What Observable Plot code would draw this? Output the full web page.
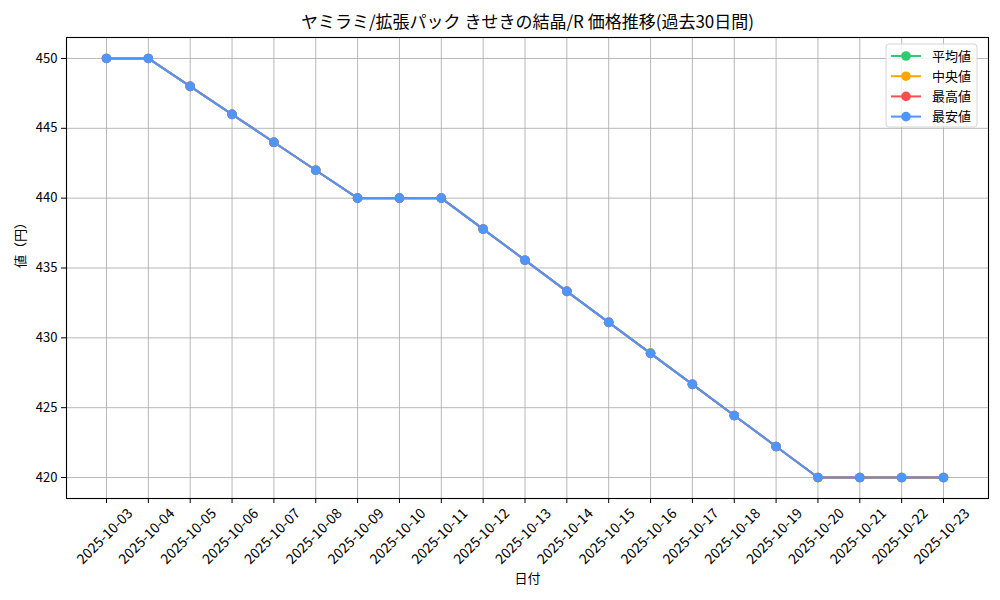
<!DOCTYPE html>
<html>
<head>
<meta charset="utf-8">
<script src="https://cdn.jsdelivr.net/npm/d3@7"></script>
<script src="https://cdn.jsdelivr.net/npm/@observablehq/plot@0.6"></script>
<style>
  html, body { margin: 0; padding: 0; background: white; }
  #chart { position: relative; width: 1000px; height: 600px; }
</style>
</head>
<body>
<div id="chart"></div>
<script>
const titleText = "ヤミラミ/拡張パック きせきの結晶/R 価格推移(過去30日間)";
const xLabel = "日付";
const yLabel = "値（円）";

const dates = ["2025-10-03","2025-10-04","2025-10-05","2025-10-06","2025-10-07","2025-10-08","2025-10-09",
  "2025-10-10","2025-10-11","2025-10-12","2025-10-13","2025-10-14","2025-10-15","2025-10-16",
  "2025-10-17","2025-10-18","2025-10-19","2025-10-20","2025-10-21","2025-10-22","2025-10-23"];

const avgValues    = [450, 450, 448, 446, 444, 442, 440, 440, 440, 437.78, 435.56, 433.33, 431.11, 428.89, 426.67, 424.44, 422.22, 420, 420, 420, 420];
const medianValues = [450, 450, 448, 446, 444, 442, 440, 440, 440, 437.78, 435.56, 433.33, 431.11, 428.89, 426.67, 424.44, 422.22, 420, 420, 420, 420];
const maxValues    = [450, 450, 448, 446, 444, 442, 440, 440, 440, 437.78, 435.56, 433.33, 431.11, 428.89, 426.67, 424.44, 422.22, 420, 420, 420, 420];
const minValues    = [450, 450, 448, 446, 444, 442, 440, 440, 440, 437.78, 435.56, 433.33, 431.11, 428.89, 426.67, 424.44, 422.22, 420, 420, 420, 420];

const seriesNames  = ["平均値", "中央値", "最高値", "最安値"];
const seriesColors = ["#2ecc71", "#ffa500", "#ff4d4d", "#4d96ff"];
const seriesValues = [avgValues, medianValues, maxValues, minValues];

const yTicks = [420, 425, 430, 435, 440, 445, 450];

const font = "'Noto Sans CJK JP', 'Noto Sans', sans-serif";

const seriesData = seriesNames.map((name, i) =>
  dates.map((d, j) => ({date: d, value: seriesValues[i][j], series: name}))
);

const marks = [
  Plot.gridX(dates, {stroke: "#b0b0b0", strokeOpacity: 1, strokeWidth: 0.9}),
  Plot.gridY(yTicks, {stroke: "#b0b0b0", strokeOpacity: 1, strokeWidth: 0.9}),
];
seriesData.forEach((rows, i) => {
  marks.push(Plot.line(rows, {x: "date", y: "value", stroke: seriesColors[i], strokeWidth: 2}));
  marks.push(Plot.dot(rows, {x: "date", y: "value", fill: seriesColors[i], r: 4.8}));
});
marks.push(
  Plot.frame({stroke: "black", strokeWidth: 1.1}),
  Plot.axisY(yTicks, {tickSize: 5, tickPadding: 4, label: null, fontSize: 13}),
  Plot.axisX(dates, {tickSize: 5, tickFormat: () => "", label: null}),
  Plot.text(dates, {x: d => d, frameAnchor: "bottom", lineAnchor: "middle", dy: 38, dx: -1.5, rotate: -45, textAnchor: "middle", fontSize: 14}),
  Plot.text([titleText], {frameAnchor: "top", lineAnchor: "middle", dy: -15, fontSize: 17}),
  Plot.text([xLabel], {frameAnchor: "bottom", lineAnchor: "middle", dy: 80, fontSize: 13}),
  Plot.text([yLabel], {frameAnchor: "left", lineAnchor: "middle", dx: -46, rotate: -90, fontSize: 13})
);

const chart = Plot.plot({
  width: 1000,
  height: 600,
  marginLeft: 66,
  marginRight: 12,
  marginTop: 37,
  marginBottom: 102,
  style: {fontFamily: font, fontSize: "13px", background: "white", color: "black", overflow: "visible"},
  x: {type: "point", domain: dates, range: [106, 943], padding: 0, round: false},
  y: {domain: [418.5, 451.5]},
  marks
});

// legend
const svg = d3.select(chart);
const lg = svg.append("g").attr("font-family", font).attr("font-size", 13).attr("text-anchor", "start");
lg.append("rect").attr("x", 886).attr("y", 44).attr("width", 91).attr("height", 83)
  .attr("rx", 3).attr("fill", "white").attr("fill-opacity", 0.8)
  .attr("stroke", "#d5d5d5").attr("stroke-width", 1);
seriesNames.forEach((name, i) => {
  const cy = 56 + i * 20.2;
  lg.append("line").attr("x1", 891).attr("x2", 921).attr("y1", cy).attr("y2", cy)
    .attr("stroke", seriesColors[i]).attr("stroke-width", 2);
  lg.append("circle").attr("cx", 906).attr("cy", cy).attr("r", 4.8).attr("fill", seriesColors[i]);
  lg.append("text").attr("x", 932).attr("y", cy).attr("dy", "0.35em").attr("text-anchor", "start")
    .attr("fill", "black").text(name);
});

document.getElementById("chart").appendChild(chart);
</script>
</body>
</html>
